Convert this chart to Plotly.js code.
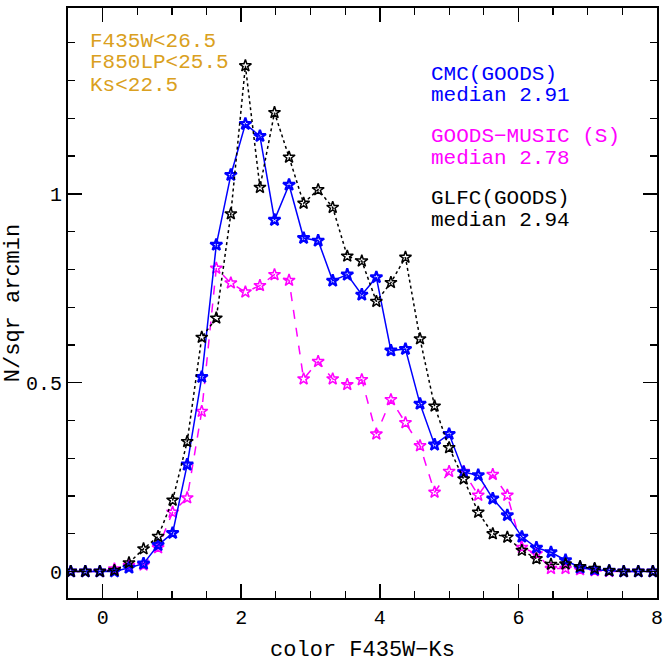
<!DOCTYPE html>
<html>
<head>
<meta charset="utf-8">
<script src="https://cdn.plot.ly/plotly-3.0.1.min.js"></script>
<style>html,body{margin:0;padding:0;background:#fff;}#chart{width:664px;height:668px;}</style>
</head>
<body>
<div id="chart"></div>
<script>
// bin centres of colour F435W-Ks
var colorBins = [-0.46,-0.25,-0.04,0.17,0.38,0.59,0.80,1.01,1.22,1.43,1.64,1.85,2.06,2.27,2.48,2.69,2.90,3.11,3.32,3.53,3.74,3.95,4.16,4.37,4.58,4.79,5.00,5.21,5.42,5.63,5.84,6.05,6.26,6.47,6.68,6.89,7.10,7.31,7.52,7.73,7.94];
// CMC(GOODS) - blue
var cmc = [0,0,0,0,0.010,0.021,0.070,0.102,0.283,0.515,0.865,1.050,1.185,1.153,0.931,1.024,0.883,0.876,0.770,0.786,0.733,0.779,0.585,0.589,0.444,0.336,0.364,0.263,0.255,0.193,0.149,0.092,0.063,0.051,0.030,0.010,0.005,0.002,0,0,0];
// GOODS-MUSIC (S) - magenta
var music = [0,0,0,0.007,0.016,0.017,0.063,0.157,0.195,0.424,0.803,0.764,0.740,0.757,0.786,0.771,0.510,0.556,0.510,0.495,0.508,0.364,0.455,0.394,0.333,0.210,0.265,0.265,0.202,0.257,0.202,0.064,0.047,0.008,0.008,0.005,0.002,0,0,0,0];
// GLFC(GOODS) - black
var glfc = [0,0,0,0.003,0.023,0.060,0.093,0.189,0.344,0.620,0.671,0.947,1.339,1.017,1.215,1.097,0.975,1.011,0.964,0.835,0.822,0.715,0.765,0.832,0.616,0.438,0.328,0.245,0.157,0.100,0.091,0.056,0.034,0.019,0.020,0.013,0.008,0.002,0,0,0];

var cutLines = ["F435W<26.5","F850LP<25.5","Ks<22.5"];
var legendLines = ["CMC(GOODS)","median 2.91","GOODS\u2212MUSIC (S)","median 2.78","GLFC(GOODS)","median 2.94"];
var xTickVals = [0,2,4,6,8];
var yTickVals = [0,0.5,1];
var yTickText = ["0","0.5","1"];

var FONT = "Liberation Mono, DejaVu Sans Mono, monospace";

var traces = [
  {x: colorBins, y: music, mode: "lines+markers", type: "scatter",
   line: {color: "#ff00ff", width: 1.5, dash: "dash"},
   marker: {symbol: "star-open", size: 9, color: "#ff00ff", line: {width: 1.5, color: "#ff00ff"}}},
  {x: colorBins, y: cmc, mode: "lines+markers", type: "scatter",
   line: {color: "#0000ff", width: 1.5},
   marker: {symbol: "star-open", size: 9, color: "#0000ff", line: {width: 2.2, color: "#0000ff"}}},
  {x: colorBins, y: glfc, mode: "lines+markers", type: "scatter",
   line: {color: "#000000", width: 1.5, dash: "dot"},
   marker: {symbol: "star-open", size: 9, color: "#000000", line: {width: 1.5, color: "#000000"}}}
];

var annotations = [];
var cutY = [41, 63, 85];
cutLines.forEach(function(t, i){
  annotations.push({text: t, xref: "paper", yref: "paper", x: (88-68)/589, y: (598-cutY[i])/590,
    xanchor: "left", yanchor: "middle", showarrow: false, font: {family: FONT, size: 21, color: "#daa020"}});
});
var legY = [74, 96, 136, 158, 198, 220];
var legC = ["#0000ff","#0000ff","#ff00ff","#ff00ff","#000000","#000000"];
legendLines.forEach(function(t, i){
  annotations.push({text: t, xref: "paper", yref: "paper", x: (429-68)/589, y: (598-legY[i])/590,
    xanchor: "left", yanchor: "middle", showarrow: false, font: {family: FONT, size: 21, color: legC[i]}});
});

var layout = {
  width: 664, height: 668,
  margin: {l: 68, r: 7, t: 8, b: 70},
  paper_bgcolor: "#ffffff", plot_bgcolor: "#ffffff",
  showlegend: false,
  font: {family: FONT, color: "#000"},
  xaxis: {range: [-0.5, 8], tickvals: xTickVals, ticks: "inside", ticklen: 14, tickwidth: 1.5, tickcolor: "#000",
    minor: {dtick: 0.5, ticks: "inside", ticklen: 7, tickwidth: 1.2, tickcolor: "#000", showgrid: false},
    showline: true, linewidth: 2, linecolor: "#000", mirror: "allticks", showgrid: false, zeroline: false,
    tickfont: {family: FONT, size: 20, color: "#000"},
    title: {text: "color F435W\u2212Ks", font: {family: FONT, size: 22, color: "#000"}, standoff: 12}},
  yaxis: {range: [-0.07, 1.492], tickvals: yTickVals, ticktext: yTickText, ticks: "inside", ticklen: 14, tickwidth: 1.5, tickcolor: "#000",
    minor: {dtick: 0.1, ticks: "inside", ticklen: 7, tickwidth: 1.2, tickcolor: "#000", showgrid: false},
    showline: true, linewidth: 2, linecolor: "#000", mirror: "allticks", showgrid: false, zeroline: false,
    tickfont: {family: FONT, size: 20, color: "#000"},
    title: {text: "N/sqr arcmin", font: {family: FONT, size: 22, color: "#000"}, standoff: 0}},
  annotations: annotations
};

Plotly.newPlot("chart", traces, layout, {staticPlot: true, displayModeBar: false});
</script>
</body>
</html>
